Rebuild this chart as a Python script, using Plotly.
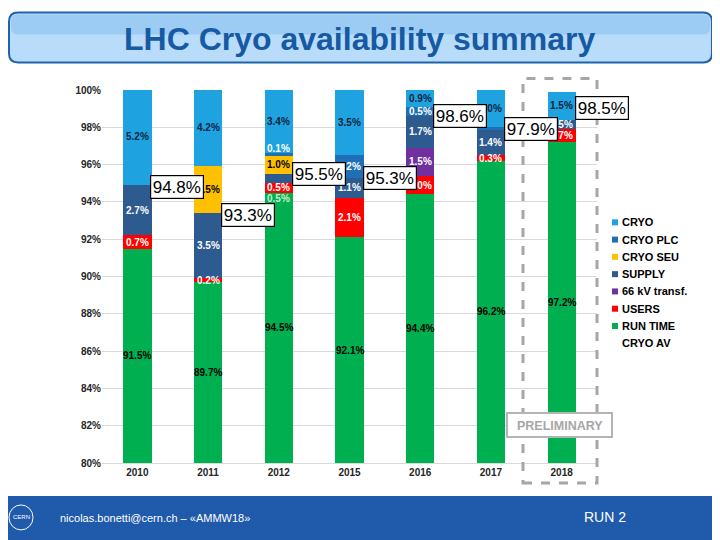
import plotly.graph_objects as go

# ---------------- data ----------------
years = ["2010", "2011", "2012", "2015", "2016", "2017", "2018"]
run_time = [91.5, 89.7, 94.5, 92.1, 94.4, 96.2, 97.2]
users = [0.7, 0.2, 0.5, 2.1, 1.0, 0.3, 0.7]
kv66 = [0, 0, 0, 0, 1.5, 0, 0]
supply = [2.7, 3.5, 0.5, 1.1, 1.7, 1.4, 0.5]
cryo_seu = [0, 2.5, 1.0, 0, 0, 0, 0]
cryo_plc = [0, 0, 0.1, 1.2, 0.5, 0.1, 0]
cryo = [5.2, 4.2, 3.4, 3.5, 0.9, 2.0, 1.5]
cryo_av = [94.8, 93.3, 95.5, 95.3, 98.6, 97.9, 98.5]
y_ticks = [80, 82, 84, 86, 88, 90, 92, 94, 96, 98, 100]
legend_names = ["CRYO", "CRYO PLC", "CRYO SEU", "SUPPLY", "66 kV transf.", "USERS", "RUN TIME", "CRYO AV"]
y_min, y_max = 80, 100

FONT = "Liberation Sans"
OFF = 8                      # default page margin of the html body
W, H = 720 - OFF, 540 - OFF  # figure size so that it fills the window
L, R, T, B = 102, 597, 89.5, 463  # plot area in screen pixels


def px(x):
    return (x - L) / (R - L)


def py(y):
    return (B - y) / (B - T)


# series in stacking order (bottom -> top)
series = [
    ("RUN TIME", run_time, "#00b050", "black"),
    ("USERS", users, "#ff0000", "white"),
    ("66 kV transf.", kv66, "#7030a0", "white"),
    ("SUPPLY", supply, "#2e5b8f", "white"),
    ("CRYO SEU", cryo_seu, "#ffc000", "black"),
    ("CRYO PLC", cryo_plc, "#1f6fb6", "white"),
    ("CRYO", cryo, "#1ea3e0", "#10243f"),
]
colors = {s[0]: s[2] for s in series}
xi = list(range(len(years)))

fig = go.Figure()
for name, vals, col, tcol in series:
    fig.add_trace(go.Bar(
        x=xi, y=vals, name=name, marker=dict(color=col, line=dict(width=0)),
        width=0.4, hoverinfo="skip", showlegend=False,
    ))

annotations = []

# segment labels
label_tweaks = {("SUPPLY", "2012"): (-20, "#c6efce"), ("CRYO PLC", "2012"): (6, "white")}
base = [0.0] * len(years)
for name, vals, col, tcol in series:
    for i, v in enumerate(vals):
        if v > 0.05 and not (name == "CRYO PLC" and years[i] == "2017"):
            lo = max(base[i], y_min)
            hi = base[i] + v
            yc = (lo + hi) / 2
            ys, c = label_tweaks.get((name, years[i]), (0, tcol))
            annotations.append(dict(
                x=i, y=yc, text=f"{v:.1f}%", showarrow=False, yshift=ys,
                font=dict(family=FONT, size=10, color=c, weight="bold"),
            ))
        base[i] += v

# CRYO AV boxes
av_shift = [0, 0, 0, 0, 0, 0, 10]
for i, v in enumerate(cryo_av):
    annotations.append(dict(
        x=i, y=v, text=f"{v:.1f}%", showarrow=False, xshift=40, yshift=av_shift[i],
        font=dict(family=FONT, size=17, color="black"),
        bgcolor="white", bordercolor="black", borderwidth=1.2, borderpad=1.5,
    ))

# title text
annotations.append(dict(
    xref="paper", yref="paper", x=px(359), y=py(38), text="LHC Cryo availability summary",
    showarrow=False, font=dict(family=FONT, size=32, color="#165aa3", weight="bold"),
    xanchor="center", yanchor="middle",
))
# PRELIMINARY
annotations.append(dict(
    xref="paper", yref="paper", x=px(559.5), y=py(425.5), text="PRELIMINARY",
    showarrow=False, font=dict(family=FONT, size=12.5, color="#a6a6a6", weight="bold"),
    xanchor="center", yanchor="middle",
))
# footer texts
annotations.append(dict(
    xref="paper", yref="paper", x=px(58), y=py(518), text="nicolas.bonetti@cern.ch – «AMMW18»",
    showarrow=False, font=dict(family=FONT, size=11, color="white"),
    xanchor="left", yanchor="middle",
))
annotations.append(dict(
    xref="paper", yref="paper", x=px(582), y=py(517), text="RUN 2",
    showarrow=False, font=dict(family=FONT, size=14, color="white"),
    xanchor="left", yanchor="middle",
))
annotations.append(dict(
    xref="paper", yref="paper", x=px(21), y=py(517), text="CERN",
    showarrow=False, font=dict(family=FONT, size=6, color="white"),
    xanchor="center", yanchor="middle",
))


def rounded(x0, y0, x1, y1, r):
    pts = [
        f"M{px(x0 + r)},{py(y0)}",
        f"L{px(x1 - r)},{py(y0)}",
        f"Q{px(x1)},{py(y0)} {px(x1)},{py(y0 + r)}",
        f"L{px(x1)},{py(y1 - r)}",
        f"Q{px(x1)},{py(y1)} {px(x1 - r)},{py(y1)}",
        f"L{px(x0 + r)},{py(y1)}",
        f"Q{px(x0)},{py(y1)} {px(x0)},{py(y1 - r)}",
        f"L{px(x0)},{py(y0 + r)}",
        f"Q{px(x0)},{py(y0)} {px(x0 + r)},{py(y0)}",
        "Z",
    ]
    return " ".join(pts)


shapes = [
    # title box
    dict(type="path", xref="paper", yref="paper", path=rounded(9, 12, 712, 62, 9),
         fillcolor="#b8dcfa", line=dict(color="#2163ab", width=2), layer="below"),
    dict(type="path", xref="paper", yref="paper", path=rounded(11, 14, 710, 34, 7),
         fillcolor="#9ccbf4", line=dict(width=0), layer="below"),
    # footer bar
    dict(type="rect", xref="paper", yref="paper", x0=px(0), x1=px(720), y0=py(496), y1=py(540),
         fillcolor="#1f5aab", line=dict(width=0), layer="below"),
    dict(type="circle", xref="paper", yref="paper", x0=px(9), x1=px(33), y0=py(505), y1=py(530),
         line=dict(color="white", width=1)),
    # dashed box around 2018
    dict(type="rect", xref="paper", yref="paper", x0=px(523), x1=px(597), y0=py(483), y1=py(78),
         line=dict(color="#a6a6a6", width=3, dash="dash")),
    # preliminary box
    dict(type="rect", xref="paper", yref="paper", x0=px(507), x1=px(612), y0=py(437), y1=py(413),
         fillcolor="white", line=dict(color="#b4b4b4", width=2)),
]

# manual legend
for k, name in enumerate(legend_names):
    yc = 222 + 17.3 * k
    if name in colors:
        shapes.append(dict(type="rect", xref="paper", yref="paper",
                           x0=px(612), x1=px(618), y0=py(yc + 3), y1=py(yc - 3),
                           fillcolor=colors[name], line=dict(width=0)))
    annotations.append(dict(
        xref="paper", yref="paper", x=px(620), y=py(yc), text=name, showarrow=False,
        font=dict(family=FONT, size=11, color="black", weight="bold"),
        xanchor="left", yanchor="middle",
    ))

fig.update_layout(
    width=W, height=H,
    margin=dict(l=L - OFF, r=720 - R, t=T - OFF, b=540 - B),
    paper_bgcolor="white", plot_bgcolor="white",
    barmode="stack",
    showlegend=False,
    xaxis=dict(
        range=[-0.5, len(years) - 0.5], tickvals=xi, ticktext=years,
        showgrid=False, showline=True, linecolor="#d9d9d9", ticks="", zeroline=False,
        tickfont=dict(family=FONT, size=10, color="#262626", weight="bold"),
    ),
    yaxis=dict(
        range=[y_min, y_max], tickvals=y_ticks, ticktext=[f"{t}%" for t in y_ticks],
        showgrid=True, gridcolor="#d9d9d9", gridwidth=1, zeroline=False, showline=False,
        tickfont=dict(family=FONT, size=10, color="#262626", weight="bold"), ticks="",
    ),
    annotations=annotations,
    shapes=shapes,
)

fig.write_html("out.html")
